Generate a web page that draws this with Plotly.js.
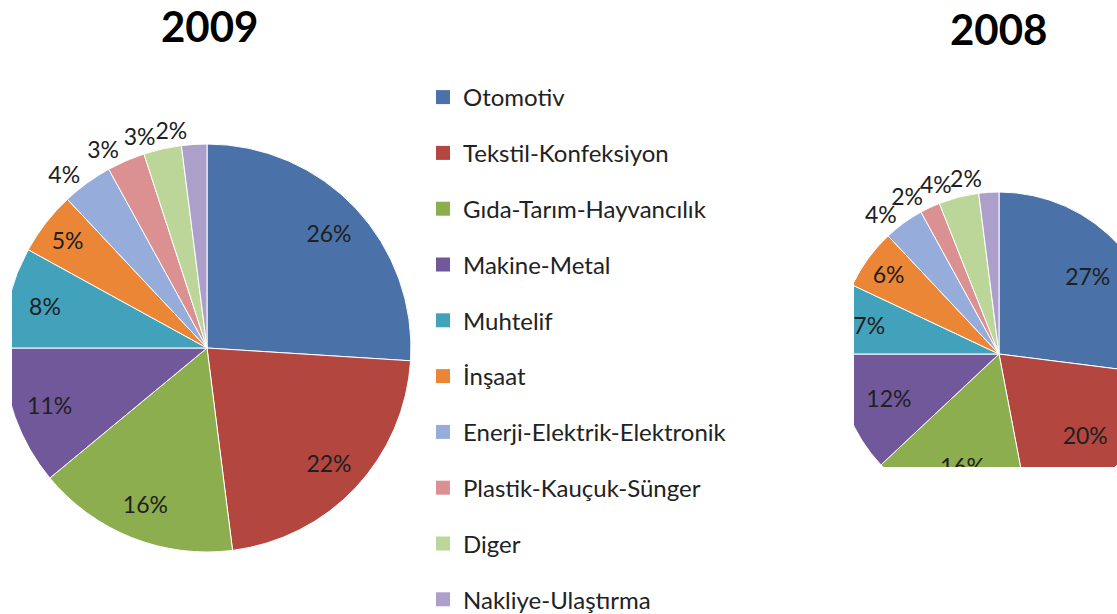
<!DOCTYPE html>
<html><head><meta charset="utf-8">
<script src="https://cdn.plot.ly/plotly-3.0.1.min.js"></script>
<style>
html,body{margin:0;padding:0;background:#fff;width:1117px;height:614px;overflow:hidden;}
#wrapA{position:absolute;left:12px;top:0;width:842px;height:614px;overflow:hidden;}
#chartA{position:absolute;left:-12px;top:0;width:854px;height:650px;}
#wrapB{position:absolute;left:854px;top:0;width:263px;height:467px;overflow:hidden;}
#chartB{position:absolute;left:-154px;top:0;width:500px;height:614px;}
</style></head><body>
<div id="wrapA"><div id="chartA"></div></div>
<div id="wrapB"><div id="chartB"></div></div>
<script>
// ---- data ----
const categories = ['Otomotiv','Tekstil-Konfeksiyon','Gıda-Tarım-Hayvancılık','Makine-Metal','Muhtelif','İnşaat','Enerji-Elektrik-Elektronik','Plastik-Kauçuk-Sünger','Diger','Nakliye-Ulaştırma'];
const values2009 = [26,22,16,11,8,5,4,3,3,2];
const values2008 = [27,20,16,12,7,6,4,2,4,2];
const yearTitles = ['2009','2008'];

// ---- style ----
const colors = ['#4A72A8','#B3463F','#8DAE4E','#71589A','#42A2BC','#EB8637','#96ACDA','#DB9191','#BCD69A','#ACA0CB'];
const FONT = 'Lato, "Open Sans", sans-serif';
const labelFont = {family: FONT, size: 23, color: '#202020'};
const transparent = categories.map(() => 'rgba(0,0,0,0)');

function domainFor(cx, cy, r, W, H) {
  return {x: [(cx - r) / W, (cx + r) / W], y: [1 - (cy + r) / H, 1 - (cy - r) / H]};
}

function pieTraces(values, dom, hole) {
  const common = {type: 'pie', values: values, labels: categories, sort: false,
    direction: 'clockwise', rotation: 0, domain: dom, showlegend: false, hoverinfo: 'skip'};
  const traces = [];
  traces.push(Object.assign({}, common, {
    marker: {colors: colors, line: {color: '#ffffff', width: 1}}, textinfo: 'none'}));
  traces.push(Object.assign({}, common, {
    hole: hole, marker: {colors: transparent, line: {width: 0}},
    texttemplate: '%{value}%', textfont: labelFont, insidetextorientation: 'horizontal',
    textposition: values.map(v => v >= 5 ? 'inside' : 'none')}));
  values.forEach((v, i) => {
    if (v < 5) {
      traces.push(Object.assign({}, common, {
        marker: {colors: transparent, line: {width: 0}},
        texttemplate: '%{value}%', textfont: labelFont,
        textposition: values.map((w, j) => j === i ? 'outside' : 'none')}));
    }
  });
  return traces;
}

// ---- chart A (2009 + legend) ----
const WA = 854, HA = 650;
const legendTraces = categories.map((c, i) => ({
  type: 'scatter', mode: 'markers', x: [null], y: [null], name: c, legendgroup: 'g' + i,
  marker: {symbol: 'square', size: 14, color: colors[i], line: {width: 0}}, showlegend: true, hoverinfo: 'skip'}));

const legendSize = 24;
const tracesA = pieTraces(values2009, domainFor(207, 348, 204, WA, HA), 0.64).concat(legendTraces);
const layoutA = {
  width: WA, height: HA, margin: {l: 0, r: 0, t: 0, b: 0, autoexpand: false},
  paper_bgcolor: '#ffffff', plot_bgcolor: 'rgba(0,0,0,0)',
  xaxis: {visible: false}, yaxis: {visible: false},
  font: {family: FONT},
  showlegend: true,
  legend: {x: 423 / WA, y: 1 - 75 / HA, xanchor: 'left', yanchor: 'top',
    font: {family: FONT, size: legendSize, color: '#222222'},
    tracegroupgap: 55.8 - (legendSize * 1.3 + 3), bgcolor: 'rgba(0,0,0,0)'},
  annotations: [{text: '<b>' + yearTitles[0] + '</b>', x: 209 / WA, y: 1 - 26 / HA, xref: 'paper', yref: 'paper',
    xanchor: 'center', yanchor: 'middle', showarrow: false, font: {family: FONT, size: 42, color: '#000'}}]
};
Plotly.newPlot('chartA', tracesA, layoutA, {staticPlot: true, displayModeBar: false});

// ---- chart B (2008) ----
const WB = 500, HB = 614, OX = 700;
const tracesB = pieTraces(values2008, domainFor(999 - OX, 354, 162, WB, HB), 0.46);
const layoutB = {
  width: WB, height: HB, margin: {l: 0, r: 0, t: 0, b: 0, autoexpand: false},
  paper_bgcolor: '#ffffff', showlegend: false, font: {family: FONT},
  annotations: [{text: '<b>' + yearTitles[1] + '</b>', x: (998 - OX) / WB, y: 1 - 29 / HB, xref: 'paper', yref: 'paper',
    xanchor: 'center', yanchor: 'middle', showarrow: false, font: {family: FONT, size: 42, color: '#000'}}]
};
Plotly.newPlot('chartB', tracesB, layoutB, {staticPlot: true, displayModeBar: false});
</script>
</body></html>
